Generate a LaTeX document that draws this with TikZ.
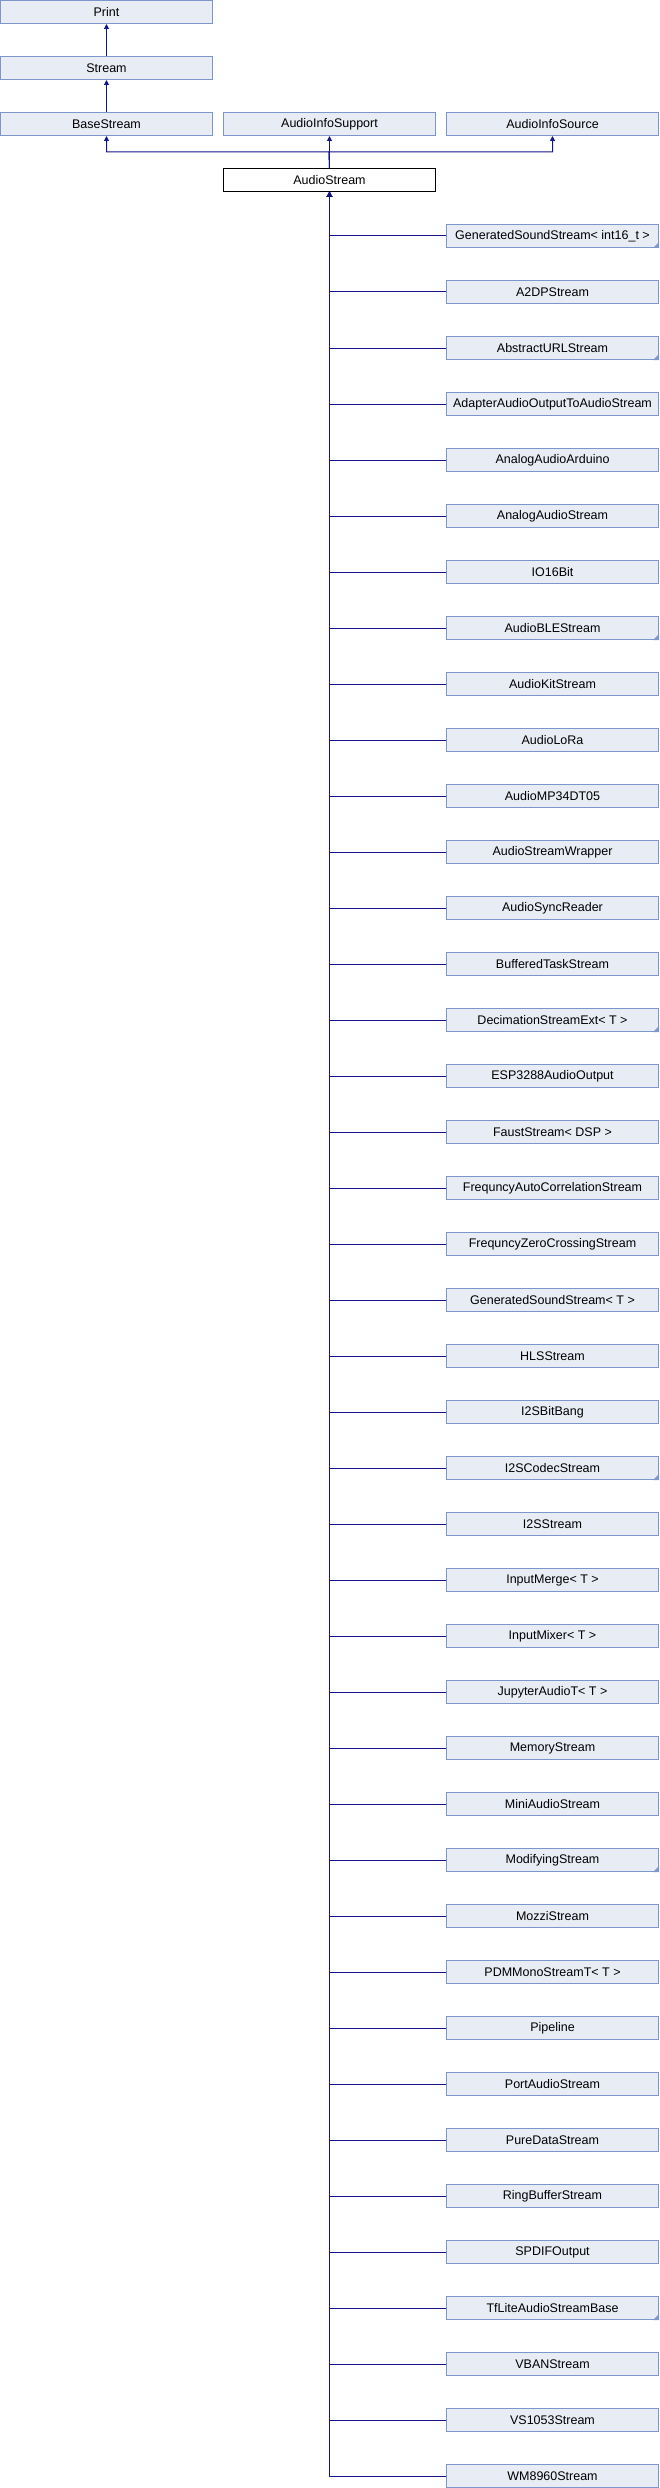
\documentclass[tikz,border=0pt]{standalone}
\usepackage{fontspec}
\setmainfont{Liberation Sans}
\usetikzlibrary{arrows.meta}
\definecolor{boxfill}{RGB}{232,236,245}
\definecolor{boxline}{RGB}{124,149,202}
\definecolor{edgecol}{RGB}{20,20,140}
\begin{document}
\begin{tikzpicture}[x=1pt,y=-1pt,
  cls/.style={draw=boxline,fill=boxfill,line width=1pt,minimum width=212pt,minimum height=23pt,inner sep=0pt,anchor=north west,font=\fontsize{12.5}{14}\selectfont},
  curcls/.style={cls,draw=black,fill=white},
  edge/.style={draw=edgecol,line width=1pt,-{Triangle[width=5pt,length=5pt]}}]
\useasboundingbox (0,0) rectangle (659,2488);
\node[cls] (pr) at (0,0) {Print};
\node[cls] (st) at (0,56) {Stream};
\node[cls] (bs) at (0,112) {BaseStream};
\node[cls] (asup) at (223,112) {AudioInfoSupport};
\node[cls] (asrc) at (446,112) {AudioInfoSource};
\node[curcls] (as) at (223,168) {AudioStream};
\coordinate (j) at (329,152);
\draw[edge] (st.north) -- (pr.south);
\draw[edge] (bs.north) -- (st.south);
\draw[edge] (as.north) -- (asup.south);
\draw[edge] (as.north) -- (j) -| (bs.south);
\draw[edge] (as.north) -- (j) -| (asrc.south);
\foreach \t [count=\i] in {{GeneratedSoundStream< int16\_t >},A2DPStream,AbstractURLStream,AdapterAudioOutputToAudioStream,AnalogAudioArduino,AnalogAudioStream,IO16Bit,AudioBLEStream,AudioKitStream,AudioLoRa,AudioMP34DT05,AudioStreamWrapper,AudioSyncReader,BufferedTaskStream,{DecimationStreamExt< T >},ESP3288AudioOutput,{FaustStream< DSP >},FrequncyAutoCorrelationStream,FrequncyZeroCrossingStream,{GeneratedSoundStream< T >},HLSStream,I2SBitBang,I2SCodecStream,I2SStream,{InputMerge< T >},{InputMixer< T >},{JupyterAudioT< T >},MemoryStream,MiniAudioStream,ModifyingStream,MozziStream,{PDMMonoStreamT< T >},Pipeline,PortAudioStream,PureDataStream,RingBufferStream,SPDIFOutput,TfLiteAudioStreamBase,VBANStream,VS1053Stream,WM8960Stream}{
  \node[cls] (c\i) at (446,{224+56*(\i-1)}) {\t};
  \draw[edge] (c\i.west) -| (as.south);
}
\foreach \i in {1,3,8,15,23,30,38}{
  \fill[boxline] (c\i.south east) -- ++(-6,0) -- ++(6,-6) -- cycle;
}
\end{tikzpicture}
\end{document}
